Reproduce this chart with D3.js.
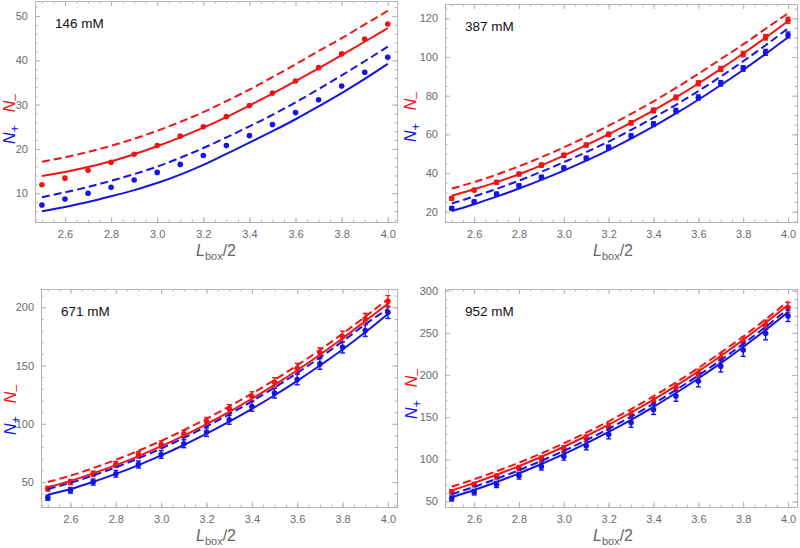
<!DOCTYPE html>
<html>
<head>
<meta charset="utf-8">
<title>N+ / N- versus Lbox/2</title>
<style>
  body { margin: 0; background: #fff; }
  svg { display: block; font-family: "Liberation Sans", Arial, sans-serif; }
  .frame path.domain { stroke: #b4b4b4; }
  .frame line { stroke: #b4b4b4; }
  .frame text { fill: #6a6a6a; font-size: 11px; font-family: "Liberation Sans", Arial, sans-serif; }
  .curve { fill: none; stroke-width: 2px; }
</style>
</head>
<body>
<svg id="chart" width="800" height="548"></svg>
<script src="https://d3js.org/d3.v7.min.js"></script>
<script>
// ---- data ----
var xs = [2.5, 2.6, 2.7, 2.8, 2.9, 3.0, 3.1, 3.2, 3.3, 3.4, 3.5, 3.6, 3.7, 3.8, 3.9, 4.0];
var xTicks = [2.6, 2.8, 3.0, 3.2, 3.4, 3.6, 3.8, 4.0];

// 146 mM
var red146 = [11.9, 13.4, 15.2, 17.0, 18.8, 20.75, 22.9, 25.0, 27.3, 29.8, 32.6, 35.35, 38.35, 41.45, 44.8, 48.2];
var blue146 = [7.35, 8.7, 10.0, 11.35, 13.0, 14.7, 16.5, 18.5, 20.75, 23.0, 25.5, 28.2, 31.1, 34.2, 37.3, 40.7];
var redSolid146 = [13.9, 14.8, 15.9, 17.2, 18.8, 20.6, 22.6, 24.8, 27.2, 29.8, 32.5, 35.3, 38.2, 41.2, 44.2, 47.3];
var redDash146 = [17.1, 18.1, 19.3, 20.7, 22.3, 24.1, 26.1, 28.3, 30.8, 33.4, 36.2, 39.1, 42.1, 45.0, 48.1, 51.2];
var blueSolid146 = [5.9, 6.9, 8.0, 9.3, 10.7, 12.3, 14.2, 16.4, 18.9, 21.4, 24.0, 26.7, 29.6, 32.6, 35.8, 39.2];
var blueDash146 = [9.1, 10.2, 11.4, 12.8, 14.3, 16.0, 18.0, 20.2, 22.6, 25.1, 27.7, 30.5, 33.5, 36.6, 39.8, 43.1];
var yTicks146 = [10, 20, 30, 40, 50];

// 387 mM
var red387 = [26.9, 31.2, 35.2, 39.5, 44.1, 49.2, 54.5, 60.0, 66.0, 72.4, 79.1, 86.4, 93.8, 101.5, 110.2, 119.0];
var blue387 = [21.75, 25.2, 29.2, 33.4, 37.8, 42.6, 47.6, 53.3, 59.1, 65.3, 72.1, 79.1, 86.4, 94.1, 102.4, 111.4];
var redSolid387 = [28.3, 31.6, 35.3, 39.4, 44.0, 49.0, 54.4, 60.1, 66.1, 72.4, 79.1, 86.3, 93.9, 101.8, 110.0, 118.5];
var redDash387 = [32.0, 35.3, 39.2, 43.5, 48.2, 53.3, 58.7, 64.5, 70.6, 77.1, 84.0, 91.3, 98.9, 106.5, 114.6, 122.6];
var blueSolid387 = [20.4, 23.9, 27.8, 32.0, 36.5, 41.3, 46.4, 51.9, 57.8, 64.1, 70.8, 77.9, 85.5, 93.3, 101.6, 110.2];
var blueDash387 = [24.3, 27.9, 31.8, 36.1, 40.7, 45.6, 50.8, 56.3, 62.3, 68.6, 75.3, 82.4, 89.9, 97.8, 106.1, 114.8];
var redErr387 = [0.8, 0.8, 0.9, 0.9, 1.0, 1.0, 1.0, 1.1, 1.1, 1.2, 1.2, 1.3, 1.3, 1.4, 1.4, 1.5];
var blueErr387 = [0.8, 0.9, 0.9, 1.0, 1.0, 1.0, 1.1, 1.1, 1.2, 1.2, 1.3, 1.3, 1.4, 1.4, 1.5, 1.5];
var yTicks387 = [20, 40, 60, 80, 100, 120];

// 671 mM
var red671 = [44.3, 50.0, 57.1, 65.1, 73.4, 82.3, 91.4, 102.0, 112.9, 123.7, 135.7, 147.7, 160.9, 174.9, 190.0, 205.1];
var blue671 = [36.6, 42.9, 50.0, 57.1, 65.1, 73.7, 82.9, 92.9, 103.4, 114.9, 126.3, 138.0, 151.4, 165.7, 180.0, 195.7];
var redSolid671 = [45.5, 51.0, 57.5, 64.5, 72.3, 80.8, 89.9, 99.8, 110.3, 121.5, 133.4, 146.0, 159.3, 173.4, 188.2, 203.0];
var redDash671 = [50.0, 55.5, 62.0, 69.1, 76.9, 85.4, 94.5, 104.3, 114.8, 125.9, 137.7, 150.2, 163.4, 177.4, 192.0, 207.1];
var blueSolid671 = [39.1, 44.0, 50.2, 57.0, 64.6, 72.9, 81.8, 91.5, 101.8, 112.8, 124.5, 136.9, 150.0, 163.8, 178.6, 194.3];
var blueDash671 = [44.0, 49.3, 55.7, 62.7, 70.4, 78.8, 87.9, 97.7, 108.2, 119.3, 131.1, 143.6, 156.8, 170.7, 185.4, 198.6];
var redErr671 = [2.0, 2.2, 2.3, 2.6, 2.7, 3.0, 3.1, 3.4, 3.5, 3.8, 3.9, 4.2, 4.3, 4.6, 4.8, 5.0];
var blueErr671 = [2.2, 2.4, 2.6, 2.9, 3.0, 3.3, 3.4, 3.7, 3.8, 4.1, 4.2, 4.5, 4.6, 4.9, 5.0, 5.3];
var yTicks671 = [50, 100, 150, 200];

// 952 mM
var red952 = [61.5, 70.0, 79.5, 89.5, 100.5, 112.5, 125.0, 138.5, 153.0, 168.5, 185.0, 202.0, 220.0, 239.5, 259.5, 280.0];
var blue952 = [53.5, 61.0, 70.1, 80.4, 91.5, 103.5, 116.0, 129.4, 143.5, 159.0, 175.0, 192.5, 210.5, 229.5, 249.5, 270.0];
var redSolid952 = [63.0, 72.0, 81.6, 91.9, 103.0, 114.9, 127.6, 141.1, 155.5, 170.8, 187.1, 204.3, 222.5, 241.7, 261.9, 283.2];
var redDash952 = [67.5, 76.3, 85.8, 96.0, 107.0, 119.0, 131.6, 145.1, 159.5, 174.8, 191.1, 208.3, 226.5, 245.7, 266.0, 287.4];
var blueSolid952 = [55.0, 63.5, 73.0, 83.3, 94.4, 106.1, 118.8, 132.4, 146.8, 162.2, 178.6, 195.8, 214.0, 233.2, 253.3, 274.5];
var blueDash952 = [58.5, 67.3, 76.9, 87.1, 98.2, 110.0, 122.7, 136.2, 150.6, 165.9, 182.3, 199.5, 217.7, 236.9, 257.1, 278.4];
var redErr952 = [2.5, 2.7, 3.0, 3.2, 3.4, 3.6, 3.8, 4.0, 4.2, 4.4, 4.6, 4.8, 5.0, 5.3, 5.6, 6.0];
var blueErr952 = [3.0, 3.3, 3.6, 3.9, 4.2, 4.5, 4.8, 5.1, 5.5, 5.8, 6.2, 6.6, 7.0, 7.4, 7.8, 6.5];
var yTicks952 = [50, 100, 150, 200, 250, 300];

var RED = "#f01414", BLUE = "#1414e6";

// panel layout (frame rectangles in px, label anchors) + which arrays go where
var panels = [
  {label: "146 mM", left: 35, top: 1, right: 397, bottom: 222, yDom: [3.5, 53.4], yTicks: yTicks146, yMinor: 2,
   xlabX: 216, ylabX: 15, ylabY: 119,
   red: red146, blue: blue146, rs: redSolid146, rd: redDash146, bs: blueSolid146, bd: blueDash146},
  {label: "387 mM", left: 445, top: 4, right: 797, bottom: 222, yDom: [14.7, 127.4], yTicks: yTicks387, yMinor: 5,
   xlabX: 613, ylabX: 416, ylabY: 117,
   red: red387, blue: blue387, rs: redSolid387, rd: redDash387, bs: blueSolid387, bd: blueDash387,
   redErr: redErr387, blueErr: blueErr387},
  {label: "671 mM", left: 41, top: 289, right: 397, bottom: 507, yDom: [28.6, 215.7], yTicks: yTicks671, yMinor: 10,
   xlabX: 216, ylabX: 16, ylabY: 410,
   red: red671, blue: blue671, rs: redSolid671, rd: redDash671, bs: blueSolid671, bd: blueDash671,
   redErr: redErr671, blueErr: blueErr671},
  {label: "952 mM", left: 445, top: 289, right: 797, bottom: 507, yDom: [43.4, 302], yTicks: yTicks952, yMinor: 10,
   xlabX: 613, ylabX: 417, ylabY: 394,
   red: red952, blue: blue952, rs: redSolid952, rd: redDash952, bs: blueSolid952, bd: blueDash952,
   redErr: redErr952, blueErr: blueErr952}
];

var svg = d3.select("#chart");
var defs = svg.append("defs");

panels.forEach(function(p, i) {
  var x = d3.scaleLinear().domain([2.47, 4.04]).range([p.left, p.right]);
  var y = d3.scaleLinear().domain(p.yDom).range([p.bottom, p.top]);
  var g = svg.append("g");

  var xMinor = d3.range(2.5, 4.04, 0.05);
  var yMinor = d3.range(Math.ceil(p.yDom[0] / p.yMinor) * p.yMinor, p.yDom[1], p.yMinor);

  // frame: 4 sides with inward ticks
  function side(axis, tr) {
    g.append("g").attr("class", "frame").attr("transform", tr).call(axis);
  }
  side(d3.axisBottom(x).tickValues(xMinor).tickFormat("").tickSize(-2.5).tickSizeOuter(0), "translate(0," + p.bottom + ")");
  side(d3.axisBottom(x).tickValues(xTicks).tickFormat(d3.format(".1f")).tickSize(-5).tickSizeOuter(0).tickPadding(8), "translate(0," + p.bottom + ")");
  side(d3.axisTop(x).tickValues(xMinor).tickFormat("").tickSize(-2.5).tickSizeOuter(0), "translate(0," + p.top + ")");
  side(d3.axisTop(x).tickValues(xTicks).tickFormat("").tickSize(-5).tickSizeOuter(0), "translate(0," + p.top + ")");
  side(d3.axisLeft(y).tickValues(yMinor).tickFormat("").tickSize(-2.5).tickSizeOuter(0), "translate(" + p.left + ",0)");
  side(d3.axisLeft(y).tickValues(p.yTicks).tickSize(-5).tickSizeOuter(0).tickPadding(7), "translate(" + p.left + ",0)");
  side(d3.axisRight(y).tickValues(yMinor).tickFormat("").tickSize(-2.5).tickSizeOuter(0), "translate(" + p.right + ",0)");
  side(d3.axisRight(y).tickValues(p.yTicks).tickFormat("").tickSize(-5).tickSizeOuter(0), "translate(" + p.right + ",0)");

  defs.append("clipPath").attr("id", "clip" + i).append("rect")
    .attr("x", p.left).attr("y", p.top)
    .attr("width", p.right - p.left).attr("height", p.bottom - p.top);

  var plot = g.append("g").attr("clip-path", "url(#clip" + i + ")");

  var line = d3.line()
    .curve(d3.curveMonotoneX)
    .x(function(d, k) { return x(xs[k]); })
    .y(function(d) { return y(d); });

  // data points with error bars
  [[p.blue, p.blueErr, BLUE], [p.red, p.redErr, RED]].forEach(function(s) {
    var vals = s[0], err = s[1], col = s[2];
    if (err) {
      var eb = plot.append("g").attr("stroke", col).attr("stroke-width", 1.4);
      eb.selectAll("line.v").data(vals).enter().append("line")
        .attr("x1", function(d, k) { return x(xs[k]); })
        .attr("x2", function(d, k) { return x(xs[k]); })
        .attr("y1", function(d, k) { return y(d - err[k]); })
        .attr("y2", function(d, k) { return y(d + err[k]); });
      [-1, 1].forEach(function(sgn) {
        eb.selectAll("line.c" + sgn).data(vals).enter().append("line")
          .attr("x1", function(d, k) { return x(xs[k]) - 2.5; })
          .attr("x2", function(d, k) { return x(xs[k]) + 2.5; })
          .attr("y1", function(d, k) { return y(d + sgn * err[k]); })
          .attr("y2", function(d, k) { return y(d + sgn * err[k]); });
      });
    }
    plot.append("g").selectAll("circle").data(vals).enter().append("circle")
      .attr("cx", function(d, k) { return x(xs[k]); })
      .attr("cy", function(d) { return y(d); })
      .attr("r", 2.8)
      .attr("fill", col);
  });

  // model curves
  [[p.bd, BLUE, "8,4"], [p.bs, BLUE, null], [p.rd, RED, "8,4"], [p.rs, RED, null]].forEach(function(c) {
    plot.append("path").attr("class", "curve")
      .attr("d", line(c[0]))
      .attr("stroke", c[1])
      .attr("stroke-dasharray", c[2]);
  });

  // concentration label
  g.append("text")
    .attr("x", p.left + 20).attr("y", p.top + 27)
    .attr("font-size", 13.5).attr("fill", "#111")
    .text(p.label);

  // x label  L_box/2
  var xl = g.append("text")
    .attr("x", p.xlabX).attr("y", p.bottom + 34)
    .attr("text-anchor", "middle").attr("font-size", 16).attr("fill", "#666");
  xl.append("tspan").attr("font-style", "italic").text("L");
  xl.append("tspan").attr("font-size", 11).attr("dy", 4).text("box");
  xl.append("tspan").attr("dy", -4).text("/2");

  // y label  N+  N-
  var yl = g.append("text")
    .attr("transform", "translate(" + p.ylabX + "," + p.ylabY + ") rotate(-90)")
    .attr("text-anchor", "middle").attr("font-size", 16);
  yl.append("tspan").attr("fill", BLUE).attr("font-style", "italic").text("N");
  yl.append("tspan").attr("fill", BLUE).attr("font-size", 12).attr("dy", 4).text("+");
  yl.append("tspan").attr("fill", RED).attr("font-style", "italic").attr("dy", -4).attr("dx", 13).text("N");
  yl.append("tspan").attr("fill", RED).attr("font-size", 12).attr("dy", 4).text("\u2013");
});
</script>
</body>
</html>
